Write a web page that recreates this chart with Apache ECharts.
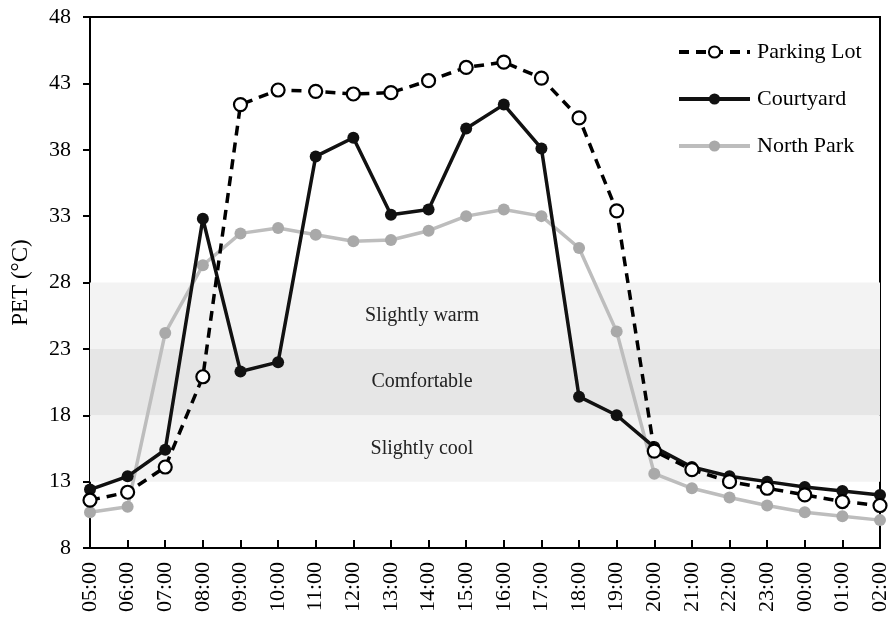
<!DOCTYPE html>
<html>
<head>
<meta charset="utf-8">
<script src="https://cdn.jsdelivr.net/npm/echarts@6/dist/echarts.min.js"></script>
<style>
    html, body { margin: 0; padding: 0; background: #fff; }
    #chart { width: 891px; height: 621px; }
</style>
</head>
<body>
<div id="chart"></div>
<script>
const hours = ['05:00', '06:00', '07:00', '08:00', '09:00', '10:00', '11:00', '12:00', '13:00', '14:00', '15:00',
    '16:00', '17:00', '18:00', '19:00', '20:00', '21:00', '22:00', '23:00', '00:00', '01:00', '02:00'];
const parkingLot = [11.6, 12.2, 14.1, 20.9, 41.4, 42.5, 42.4, 42.2, 42.3, 43.2, 44.2,
    44.6, 43.4, 40.4, 33.4, 15.3, 13.9, 13.0, 12.5, 12.0, 11.5, 11.2];
const courtyard = [12.4, 13.4, 15.4, 32.8, 21.3, 22.0, 37.5, 38.9, 33.1, 33.5, 39.6,
    41.4, 38.1, 19.4, 18.0, 15.6, 14.1, 13.4, 13.0, 12.6, 12.3, 12.0];
const northPark = [10.7, 11.1, 24.2, 29.3, 31.7, 32.1, 31.6, 31.1, 31.2, 31.9, 33.0,
    33.5, 33.0, 30.6, 24.3, 13.6, 12.5, 11.8, 11.2, 10.7, 10.4, 10.1];
const comfortBands = [
    { name: 'Slightly cool', from: 13, to: 18 },
    { name: 'Comfortable', from: 18, to: 23 },
    { name: 'Slightly warm', from: 23, to: 28 }
];

const font = 'Liberation Serif, Times New Roman, serif';
const chart = echarts.init(document.getElementById('chart'));

chart.setOption({
    animation: false,
    grid: {
        left: 90,
        top: 17,
        right: 2,
        bottom: 73,
        show: true,
        borderColor: '#000',
        borderWidth: 2
    },
    legend: {
        orient: 'vertical',
        left: 672,
        top: 36,
        itemWidth: 71,
        itemHeight: 14,
        itemGap: 25,
        textStyle: { fontFamily: font, fontSize: 22, color: '#000', padding: [0, 0, 0, 2] },
        data: [
            { name: 'Parking Lot', lineStyle: { width: 4 } },
            { name: 'Courtyard', lineStyle: { width: 4 } },
            { name: 'North Park', lineStyle: { width: 4 } }
        ]
    },
    xAxis: {
        type: 'category',
        data: hours,
        boundaryGap: false,
        axisLine: { lineStyle: { color: '#000', width: 2 } },
        axisTick: { inside: true, length: 8, lineStyle: { color: '#000', width: 2 } },
        axisLabel: { rotate: 90, margin: 14, fontFamily: font, fontSize: 22, color: '#000' }
    },
    yAxis: {
        type: 'value',
        min: 8,
        max: 48,
        interval: 5,
        name: 'PET (°C)',
        nameLocation: 'middle',
        nameGap: 58,
        nameTextStyle: { fontFamily: font, fontSize: 23, color: '#000' },
        splitLine: { show: false },
        axisLine: { show: true, lineStyle: { color: '#000', width: 2 } },
        axisTick: { show: true, length: 7, lineStyle: { color: '#000', width: 2 } },
        axisLabel: { margin: 19, fontFamily: font, fontSize: 22, color: '#000' }
    },
    series: [
        {
            name: 'Parking Lot',
            type: 'line',
            data: parkingLot,
            z: 4,
            symbol: 'circle',
            symbolSize: 13,
            lineStyle: { color: '#000', width: 3.5, type: [10, 7] },
            itemStyle: { color: '#fff', borderColor: '#000', borderWidth: 2.2 },
            markArea: {
                silent: true,
                label: {
                    position: 'inside',
                    offset: [-63, 0],
                    fontFamily: font,
                    fontSize: 20,
                    color: '#222'
                },
                data: comfortBands.map(b => [
                    {
                        name: b.name,
                        yAxis: b.from,
                        itemStyle: { color: b.name === 'Comfortable' ? '#e6e6e6' : '#f3f3f3' }
                    },
                    { yAxis: b.to }
                ])
            }
        },
        {
            name: 'Courtyard',
            type: 'line',
            data: courtyard,
            z: 3,
            symbol: 'circle',
            symbolSize: 12,
            lineStyle: { color: '#111', width: 3.5 },
            itemStyle: { color: '#111' }
        },
        {
            name: 'North Park',
            type: 'line',
            data: northPark,
            z: 2,
            symbol: 'circle',
            symbolSize: 12,
            lineStyle: { color: '#bdbdbd', width: 3.5 },
            itemStyle: { color: '#a9a9a9' }
        }
    ]
});
</script>
</body>
</html>
